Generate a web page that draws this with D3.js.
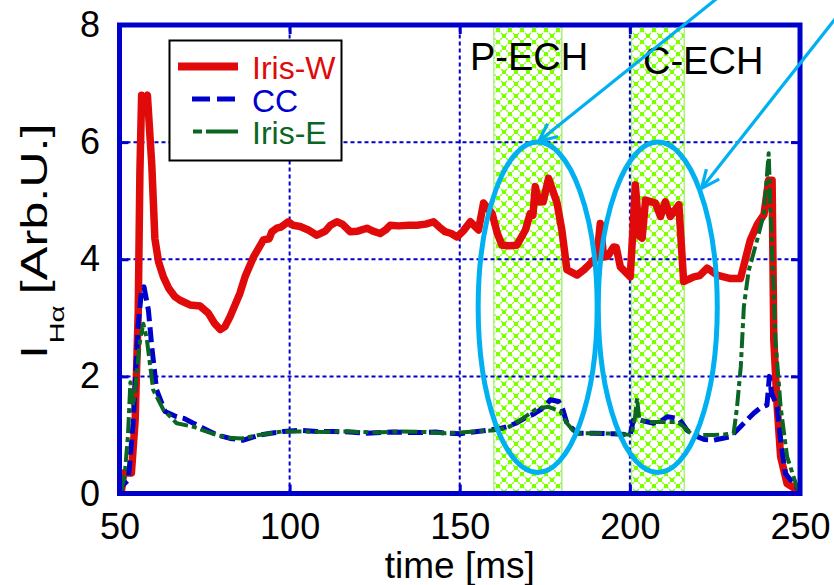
<!DOCTYPE html>
<html>
<head>
<meta charset="utf-8">
<script src="https://cdn.jsdelivr.net/npm/d3@7"></script>
<style>
  body { margin: 0; background: #fff; }
  svg { display: block; font-family: "Liberation Sans", Arial, sans-serif; }
</style>
</head>
<body>
<svg id="chart" width="834" height="585"></svg>
<script>
// ---- data -------------------------------------------------------------
const xTicks = [50, 100, 150, 200, 250];
const yTicks = [0, 2, 4, 6, 8];
const seriesNames = ["Iris-W", "CC", "Iris-E"];

// H-alpha intensity vs time [ms], [t, I]
const irisW = [
  [50.5,0.0],[51.2,0.35],[53.5,0.35],[54.6,1.25],[55.5,3.1],[56.0,5.5],[56.5,6.8],[57.2,6.7],[58.2,6.8],
  [59.5,5.6],[60.4,4.35],[61.5,3.95],[62.9,3.7],[64.5,3.5],[66.3,3.36],[67.8,3.3],[70.7,3.22],[73.7,3.2],
  [76.1,3.08],[78.0,2.9],[79.6,2.8],[81.0,2.85],[82.5,3.02],[85.4,3.42],[86.9,3.7],[89.4,4.04],[92.3,4.33],
  [94.0,4.35],[94.8,4.47],[96.2,4.53],[97.5,4.55],[99.6,4.64],[101,4.58],[103.1,4.56],[105.5,4.5],[108,4.41],
  [110.5,4.48],[112,4.58],[113.9,4.64],[115.5,4.6],[117.8,4.47],[120,4.48],[122.7,4.53],[124.5,4.48],
  [126.6,4.44],[128.2,4.5],[129.6,4.58],[132,4.57],[135,4.58],[137.4,4.58],[140,4.6],[142.3,4.64],[144,4.55],
  [145.7,4.47],[147.5,4.44],[149.2,4.38],[151,4.48],[153.1,4.64],[155.5,4.5],[157,4.96],[159.5,4.78],
  [161,4.45],[162.4,4.24],[164.5,4.23],[166.8,4.24],[169.3,4.5],[170.7,4.78],[171.5,4.75],[172.2,5.24],
  [173.2,4.98],[174.5,4.98],[176.1,5.38],[178.6,4.96],[180,4.5],[181.5,3.82],[184.5,3.73],[186.5,3.82],
  [187.9,3.9],[190.3,4.04],[191.3,4.61],[192.3,4.04],[193.5,4.05],[195.2,4.21],[196,4.2],[197.2,3.87],
  [200.1,3.7],[200.8,4.4],[201.6,5.27],[202.8,4.4],[203.6,4.36],[204.6,5.01],[207.5,4.96],[209,4.73],
  [210.4,4.98],[211.9,4.73],[214.4,4.93],[215.8,3.62],[218.8,3.7],[220.5,3.72],[222.7,3.85],[225.6,3.73],
  [229.6,3.67],[232.5,3.67],[235.4,4.33],[237.5,4.6],[239.4,4.76],[240.8,5.35],[241.8,5.35],[242.3,2.62],
  [243.3,1.48],[244.3,0.63],[246.2,0.17],[249.2,0.06],[250,0.03]
];
const cc = [
  [50.3,0.0],[50.6,0.12],[52.6,0.23],[54.0,1.2],[55.5,2.9],[56.5,3.47],[57.2,3.53],[58.5,3.13],[59.5,2.5],
  [60.9,1.77],[63.4,1.4],[66.8,1.31],[69,1.28],[71.7,1.2],[74.5,1.12],[77.6,1.03],[80,0.98],[82.5,0.94],
  [86.4,0.91],[88.5,0.95],[91.3,1.0],[94.5,1.03],[98.2,1.06],[103.1,1.08],[108,1.06],[112.9,1.06],
  [117.5,1.05],[122.7,1.03],[130,1.05],[137.4,1.04],[143,1.05],[146,1.03],[150.1,1.02],[154,1.05],[158,1.08],
  [161,1.1],[163.9,1.14],[166.5,1.2],[169.8,1.31],[171.5,1.35],[173.7,1.43],[175.5,1.52],[176.6,1.6],
  [179.1,1.57],[180.2,1.45],[181.5,1.2],[184.5,1.03],[189.4,1.03],[195.2,1.02],[200.1,1.0],[201,1.25],
  [203,1.25],[207,1.2],[209.5,1.25],[211,1.31],[214.4,1.28],[216.8,1.08],[219.8,0.97],[222,0.92],[224.6,0.91],
  [227,0.94],[229.6,0.97],[232.5,1.14],[236.4,1.37],[238.5,1.47],[240.3,1.51],[241.0,2.0],[241.6,1.72],
  [243.3,1.48],[244.3,0.91],[245.7,0.34],[248.8,0.12],[250,0.05]
];
const irisE = [
  [50.5,0.05],[51.5,0.3],[52.5,1.0],[53.2,1.9],[54.0,1.5],[55.0,2.0],[56.0,2.6],[57.0,2.9],[58,2.65],
  [59.9,1.77],[62.9,1.43],[66.8,1.2],[71.7,1.14],[75,1.07],[78.6,1.0],[82,0.95],[86,0.94],[91,1.0],
  [98,1.06],[103,1.06],[110,1.05],[117,1.06],[125,1.04],[132,1.06],[140,1.05],[146,1.03],[150,1.04],
  [155,1.06],[160,1.08],[164,1.12],[167,1.22],[170.7,1.37],[172.7,1.45],[176.1,1.48],[179.6,1.4],
  [181.5,1.2],[184,1.03],[190,1.03],[196,1.02],[200.5,1.0],[201.5,1.3],[202.1,1.63],[202.8,1.25],
  [205,1.22],[210,1.22],[214,1.22],[215.8,1.14],[218,1.02],[221,1.0],[224.6,1.0],[228,1.01],[230.5,1.03],
  [231.5,1.48],[232.6,2.17],[233.5,3.19],[234.9,3.8],[237.4,4.33],[239.4,4.78],[240.8,5.81],[241.3,4.9],
  [242.8,2.62],[244.3,1.48],[246.2,0.63],[249.2,0.09],[250,0.05]
];

// heating windows [ms]
const echLabels = ["P-ECH", "C-ECH"];
const echStart = [160, 200.5];
const echEnd = [180, 216];

// ---- layout -----------------------------------------------------------
const svg = d3.select("#chart");
const x = d3.scaleLinear().domain([50, 250]).range([119.5, 800]);
const y = d3.scaleLinear().domain([0, 8]).range([493.5, 25]);
const BLUE = "#0000cc", RED = "#e00a0a", GREEN = "#0b6623", CYAN = "#00b0f0", LIME = "#80ff00";

// ring-and-dot pattern for the heating windows
const defs = svg.append("defs");
const P = 12;
const pat = defs.append("pattern").attr("id", "ech").attr("patternUnits", "userSpaceOnUse")
  .attr("width", P).attr("height", P);
pat.append("rect").attr("width", P).attr("height", P).attr("fill", "#fff");
pat.append("path")
  .attr("d", `M0,0L${P},${P}M${P},0L0,${P}`)
  .attr("stroke", LIME).attr("stroke-width", 1.3).attr("stroke-dasharray", "2,1.2").attr("fill", "none");
[[0,0],[P,0],[0,P],[P,P],[P/2,P/2]].forEach(([cx, cy]) =>
  pat.append("rect").attr("x", cx - 2).attr("y", cy - 2).attr("width", 4).attr("height", 4).attr("fill", LIME));

// heating windows
const bands = svg.append("g");
echStart.forEach((s, i) => {
  bands.append("rect")
    .attr("x", x(s)).attr("y", y(8)).attr("width", x(echEnd[i]) - x(s)).attr("height", y(0) - y(8))
    .attr("fill", "url(#ech)");
  bands.append("line").attr("x1", x(echEnd[i])).attr("x2", x(echEnd[i]))
    .attr("y1", y(8)).attr("y2", y(0)).attr("stroke", "#a8f080").attr("stroke-width", 1.5);
  bands.append("line").attr("x1", x(s)).attr("x2", x(s))
    .attr("y1", y(8)).attr("y2", y(0)).attr("stroke", "#a8f080").attr("stroke-width", 1.2);
});

// grid
const grid = svg.append("g").attr("stroke", BLUE).attr("stroke-width", 2).attr("stroke-dasharray", "4,3");
xTicks.slice(1, -1).forEach(t => grid.append("line")
  .attr("x1", x(t)).attr("x2", x(t)).attr("y1", y(0)).attr("y2", y(8)));
yTicks.slice(1, -1).forEach(v => grid.append("line")
  .attr("x1", x(50)).attr("x2", x(250)).attr("y1", y(v)).attr("y2", y(v)));

// curves
const line = d3.line().x(d => x(d[0])).y(d => y(d[1]));
const plot = svg.append("g").attr("fill", "none").attr("stroke-linejoin", "round");
plot.append("path").datum(irisW).attr("d", line).attr("stroke", RED).attr("stroke-width", 7.5);
plot.append("path").datum(cc).attr("d", line).attr("stroke", BLUE).attr("stroke-width", 5)
  .attr("stroke-dasharray", "15,6");
plot.append("path").datum(irisE).attr("d", line).attr("stroke", GREEN).attr("stroke-width", 4)
  .attr("stroke-dasharray", "16,4,5,4");

// window labels
svg.append("g").selectAll("text").data(echLabels).join("text")
  .attr("x", (d, i) => i === 0 ? 470 : 643)
  .attr("y", (d, i) => i === 0 ? 70 : 74)
  .attr("font-size", 38).attr("fill", "#000").text(d => d);

// axes: inward ticks on all four sides
function styleAxis(g) {
  g.select(".domain").remove();
  g.selectAll(".tick line").attr("stroke", BLUE).attr("stroke-width", 3);
  g.selectAll(".tick text").attr("fill", "#000").attr("font-size", 36)
    .attr("font-family", "'Liberation Sans', Arial, sans-serif");
}
svg.append("g").attr("transform", `translate(0,${y(0)})`)
  .call(d3.axisBottom(x).tickValues(xTicks).tickSize(-9).tickPadding(20)).call(styleAxis);
svg.append("g").attr("transform", `translate(0,${y(8)})`)
  .call(d3.axisTop(x).tickValues(xTicks).tickSize(-9).tickFormat("")).call(styleAxis);
svg.append("g").attr("transform", `translate(${x(50)},0)`)
  .call(d3.axisLeft(y).tickValues(yTicks).tickSize(-9).tickPadding(19.5)).call(styleAxis);
svg.append("g").attr("transform", `translate(${x(250)},0)`)
  .call(d3.axisRight(y).tickValues(yTicks).tickSize(-9).tickFormat("")).call(styleAxis);

// frame
svg.append("rect").attr("x", x(50)).attr("y", y(8)).attr("width", x(250) - x(50)).attr("height", y(0) - y(8))
  .attr("fill", "none").attr("stroke", BLUE).attr("stroke-width", 5);

// axis titles
svg.append("text").attr("x", (x(50) + x(250)) / 2).attr("y", 578).attr("text-anchor", "middle")
  .attr("font-size", 37).text("time [ms]");
const yt = svg.append("text").attr("transform", "translate(47,359) rotate(-90) scale(1.4,1)")
  .attr("font-size", 36);
yt.append("tspan").text("I");
yt.append("tspan").attr("font-size", 21).attr("dy", 17).attr("dx", 1).text("Hα");
yt.append("tspan").attr("dy", -17).attr("dx", 8).text("[Arb.U.]");

// legend
const lg = svg.append("g");
lg.append("rect").attr("x", 169.5).attr("y", 40.5).attr("width", 172).attr("height", 120)
  .attr("fill", "#fff").attr("stroke", "#000").attr("stroke-width", 2);
const legendColors = [RED, BLUE, GREEN];
const legendWidths = [8, 5, 4];
const legendDash = [null, "18,7", "9,4,29,0"];
const legendX0 = [178, 192, 193];
seriesNames.forEach((name, i) => {
  const cy = 66.5 + i * 32.5;
  lg.append("line").attr("x1", legendX0[i]).attr("x2", 238).attr("y1", cy).attr("y2", cy)
    .attr("stroke", legendColors[i]).attr("stroke-width", legendWidths[i])
    .attr("stroke-dasharray", legendDash[i]);
  lg.append("text").attr("x", 252).attr("y", cy + 12.5).attr("font-size", 32)
    .attr("fill", legendColors[i]).text(name);
});

// annotation ellipses and arrows
const ann = svg.append("g").attr("fill", "none").attr("stroke", CYAN);
const ellipseCenters = [172.9, 208.2];
ellipseCenters.forEach(c => {
  ann.append("ellipse").attr("cx", x(c)).attr("cy", y(3.18)).attr("rx", 59.5).attr("ry", y(0.36) - y(3.18))
    .attr("stroke-width", 5);
});
const arrows = [
  { from: [720, -4], to: [538.5, 141.5] },
  { from: [850, 0], to: [701.5, 188.5] }
];
arrows.forEach(a => {
  ann.append("line").attr("x1", a.from[0]).attr("y1", a.from[1]).attr("x2", a.to[0]).attr("y2", a.to[1])
    .attr("stroke-width", 3.2);
  const ang = Math.atan2(a.from[1] - a.to[1], a.from[0] - a.to[0]);
  const L = 20, spread = 0.42;
  const p1 = [a.to[0] + L * Math.cos(ang - spread), a.to[1] + L * Math.sin(ang - spread)];
  const p2 = [a.to[0] + L * Math.cos(ang + spread), a.to[1] + L * Math.sin(ang + spread)];
  ann.append("path").attr("d", `M${p1}L${a.to}L${p2}`).attr("stroke-width", 3.2)
    .attr("stroke-linejoin", "miter");
});
</script>
</body>
</html>
